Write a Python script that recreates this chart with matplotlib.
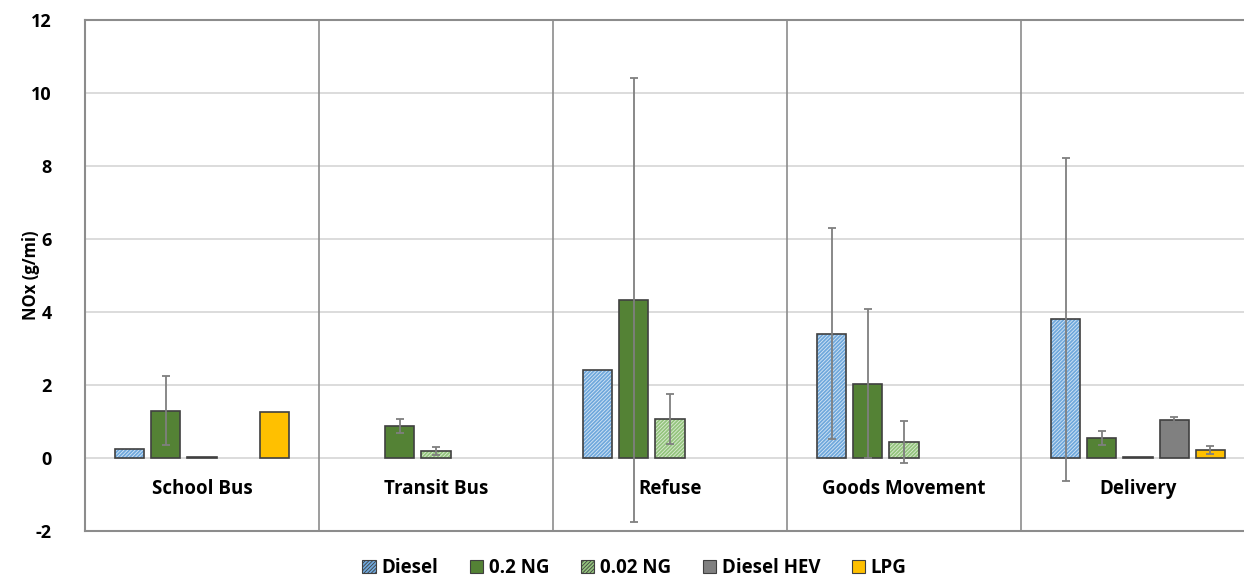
import numpy as np
import matplotlib.pyplot as plt
from matplotlib.patches import Patch

categories = ["School Bus", "Transit Bus", "Refuse", "Goods Movement", "Delivery"]
series = ["Diesel", "0.2 NG", "0.02 NG", "Diesel HEV", "LPG"]

nan = np.nan
diesel = [0.25, nan, 2.42, 3.41, 3.80]
ng02 = [1.30, 0.88, 4.33, 2.04, 0.55]
ng002 = [0.03, 0.19, 1.07, 0.44, 0.03]
hev = [nan, nan, nan, nan, 1.03]
lpg = [1.25, nan, nan, nan, 0.22]

diesel_err = [0, 0, 0, 2.89, 4.42]
ng02_err = [0.95, 0.19, 6.08, 2.04, 0.20]
ng002_err = [0, 0.10, 0.68, 0.58, 0]
hev_err = [0, 0, 0, 0, 0.08]
lpg_err = [0, 0, 0, 0, 0.12]

values = [diesel, ng02, ng002, hev, lpg]
errors = [diesel_err, ng02_err, ng002_err, hev_err, lpg_err]
colors = ["#6FA8DC", "#548235", "#93C47D", "#808080", "#FFC000"]
hatch_colors = ["#D6E6F5", None, "#DCEBD3", None, None]
hatches = ["/////////", None, "/////////", None, None]

plt.rcParams['font.family'] = ['Open Sans', 'DejaVu Sans']
plt.rcParams['hatch.linewidth'] = 0.6

fig = plt.figure(figsize=(12.44, 5.77), dpi=100)
ax = fig.add_axes([85 / 1244, 1 - 531 / 577, 1170 / 1244, 511 / 577])

x = np.arange(len(categories))
step = 0.154
width = 0.124
grid_c = "#D9D9D9"
spine_c = "#8C8C8C"

for i, (vals, errs) in enumerate(zip(values, errors)):
    pos = x + (i - 2) * step
    v = np.array(vals, dtype=float)
    e = np.array(errs, dtype=float)
    if hatches[i]:
        ax.bar(pos, v, width, color=colors[i], edgecolor=hatch_colors[i],
               hatch=hatches[i], linewidth=0, zorder=3)
        ax.bar(pos, v, width, facecolor="none", edgecolor="#404040",
               linewidth=1.2, zorder=4)
    else:
        ax.bar(pos, v, width, color=colors[i], edgecolor="#404040",
               linewidth=1.2, zorder=3)
    mask = (e > 0) & ~np.isnan(v)
    ax.errorbar(pos[mask], v[mask], yerr=e[mask], fmt="none",
                ecolor="#7F7F7F", elinewidth=1.3, capsize=3, capthick=1.3,
                zorder=5)

ax.set_xlim(-0.5, len(categories) - 0.5)
ax.set_ylim(-2, 12)
ax.set_yticks(np.arange(-2, 13, 2))
ax.set_yticklabels([str(t) for t in range(-2, 13, 2)], fontsize=13,
                   fontweight="bold")
ax.tick_params(axis="y", length=0, pad=24)
ax.tick_params(axis="x", length=0)
ax.set_xticks([])

for t in range(0, 12, 2):
    ax.axhline(t, color=grid_c, linewidth=1.3, zorder=1)
for b in x[1:] - 0.5:
    ax.axvline(b, color=spine_c, linewidth=1.2, zorder=1)

for s in ax.spines.values():
    s.set_color(spine_c)
    s.set_linewidth(1.5)

for xi, cat in zip(x, categories):
    ax.text(xi, -0.85, cat, ha="center", va="center", fontsize=13.5,
            fontweight="bold")

ax.set_ylabel("NOx (g/mi)", fontsize=12, fontweight="bold")
ax.yaxis.set_label_coords(-45 / 1170, 0.5)

handles = []
for i, name in enumerate(series):
    handles.append(Patch(facecolor=colors[i], edgecolor="#404040",
                         hatch=hatches[i], linewidth=0.8, label=name))
fig.legend(handles=handles, loc="center", bbox_to_anchor=(0.51, 0.015),
           ncol=5, frameon=False, prop={"weight": "bold", "size": 13.5},
           handlelength=0.7, handleheight=0.7, handletextpad=0.3,
           columnspacing=1.7)

fig.savefig("out.png", dpi=100)
